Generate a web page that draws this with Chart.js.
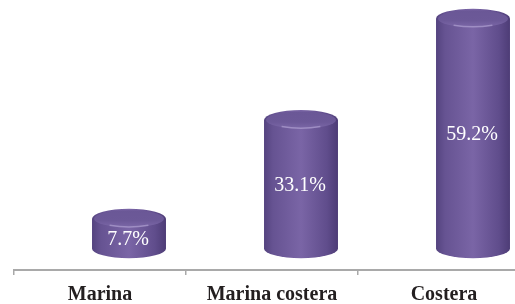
<!DOCTYPE html>
<html>
<head>
<meta charset="utf-8">
<script src="https://cdn.jsdelivr.net/npm/chart.js@4.4.0/dist/chart.umd.min.js"></script>
<style>
  html, body { margin: 0; padding: 0; background: #ffffff; overflow: hidden; }
  #wrap { width: 530px; height: 304px; }
</style>
</head>
<body>
<div id="wrap"><canvas id="c" width="530" height="304"></canvas></div>
<script>
const categories = ["Marina", "Marina costera", "Costera"];
const values = [7.7, 33.1, 59.2];
const valueLabels = ["7.7%", "33.1%", "59.2%"];

const cylinderPlugin = {
  id: 'cylinders',
  afterDatasetsDraw(chart) {
    const ctx = chart.ctx;
    const meta = chart.getDatasetMeta(0);
    meta.data.forEach((el, i) => {
      const depth = 29;
      const cx = el.x + depth;
      const w = el.width / 2;
      const yTop = el.y;
      const yBase = el.base;
      const ryT = 10, ryB = 9.5;
      ctx.save();
      // body
      const g = ctx.createLinearGradient(cx - w, 0, cx + w, 0);
      g.addColorStop(0, '#54437f');
      g.addColorStop(0.12, '#665392');
      g.addColorStop(0.5, '#7a65a6');
      g.addColorStop(0.85, '#604d8c');
      g.addColorStop(1, '#4d3c76');
      ctx.beginPath();
      ctx.moveTo(cx - w, yTop);
      ctx.lineTo(cx - w, yBase);
      ctx.ellipse(cx, yBase, w, ryB, 0, Math.PI, 0, true);
      ctx.lineTo(cx + w, yTop);
      ctx.ellipse(cx, yTop, w, ryT, 0, 0, Math.PI, true);
      ctx.closePath();
      ctx.fillStyle = g;
      ctx.fill();
      // top cap
      const gt = ctx.createLinearGradient(0, yTop - ryT, 0, yTop + ryT);
      gt.addColorStop(0, '#6a5796');
      gt.addColorStop(0.6, '#6c5998');
      gt.addColorStop(1, '#7f6bab');
      ctx.beginPath();
      ctx.ellipse(cx, yTop, w - 2, ryT - 1.5, 0, 0, Math.PI * 2);
      ctx.fillStyle = gt;
      ctx.fill();
      // front rim highlight
      ctx.beginPath();
      ctx.ellipse(cx, yTop + 0.5, w - 4, ryT - 2.5, 0, Math.PI * 0.3, Math.PI * 0.7);
      ctx.strokeStyle = 'rgba(190,175,220,0.55)';
      ctx.lineWidth = 1.5;
      ctx.stroke();
      // label
      ctx.fillStyle = '#ffffff';
      ctx.font = '20px "Liberation Serif", serif';
      ctx.textAlign = 'center';
      ctx.textBaseline = 'middle';
      const ly = Math.max((yTop + yBase) / 2, yTop + 20);
      ctx.fillText(valueLabels[i], cx - 1, ly + 1);
      ctx.restore();
    });
  }
};

new Chart(document.getElementById('c'), {
  type: 'bar',
  data: {
    labels: categories,
    datasets: [{
      data: values,
      backgroundColor: 'rgba(0,0,0,0)',
      borderWidth: 0,
      categoryPercentage: 1,
      barPercentage: 0.43
    }]
  },
  options: {
    responsive: false,
    animation: false,
    layout: { padding: { left: 14, right: 0, top: 0, bottom: 0 } },
    plugins: { legend: { display: false }, tooltip: { enabled: false } },
    scales: {
      y: { display: false, min: -5.5, max: 64 },
      x: {
        afterFit(scale) { scale.height = 34; },
        grid: { drawOnChartArea: false, tickLength: 5, color: '#a9a9a9', lineWidth: 1.5 },
        border: { color: '#a9a9a9', width: 2 },
        ticks: {
          color: '#231f20',
          padding: 8,
          font: { family: '"Liberation Serif", serif', size: 20, weight: 'bold' }
        }
      }
    }
  },
  plugins: [cylinderPlugin]
});
</script>
</body>
</html>
